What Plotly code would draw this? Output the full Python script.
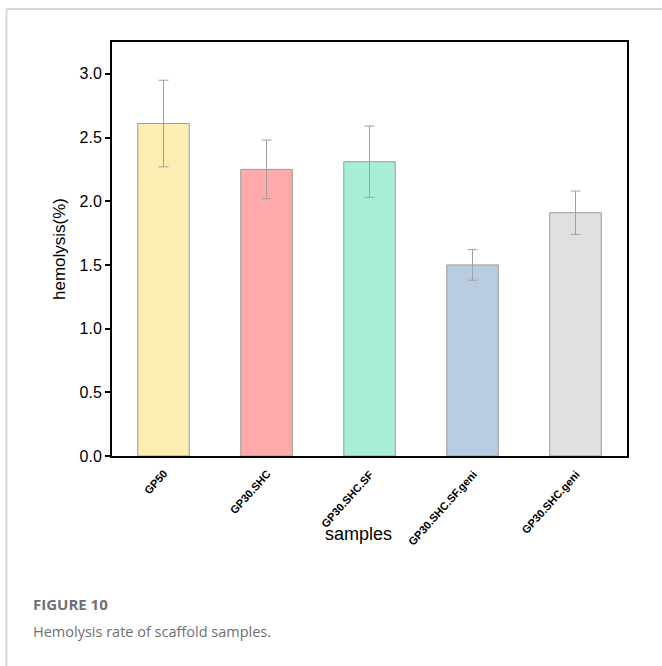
import plotly.graph_objects as go

categories = ["GP50", "GP30.SHC", "GP30.SHC.SF", "GP30.SHC.SF.geni", "GP30.SHC.geni"]
values = [2.61, 2.25, 2.31, 1.50, 1.91]
errors = [0.34, 0.23, 0.28, 0.12, 0.17]
colors = ["#FCEEB3", "#FFAAAA", "#A8EED6", "#B8CDE2", "#E0E0E0"]
ytick_vals = [0.0, 0.5, 1.0, 1.5, 2.0, 2.5, 3.0]

W, H = 662, 666
L, R, T, B = 112, 35, 42, 210
PW, PH = W - L - R, H - T - B


def px(x):
    return (x - L) / PW


def py(y):
    return (H - B - y) / PH


fig = go.Figure()
fig.add_trace(go.Bar(
    x=categories, y=values,
    marker=dict(color=colors, line=dict(color="#9A9A9A", width=1)),
    width=0.5,
    error_y=dict(type="data", array=errors, visible=True, color="#A0A0A0", thickness=1, width=5),
))

fig.update_layout(
    width=W, height=H,
    margin=dict(l=L, r=R, t=T, b=B),
    paper_bgcolor="white", plot_bgcolor="white",
    showlegend=False,
    font=dict(family="Liberation Sans, Arial", color="black"),
    xaxis=dict(
        showline=True, linecolor="black", linewidth=2, mirror=True,
        showticklabels=False, ticks="",
    ),
    yaxis=dict(
        range=[0, 3.25], tickvals=ytick_vals, ticktext=[f"{v:.1f}" for v in ytick_vals],
        showline=True, linecolor="black", linewidth=2, mirror=True,
        ticks="outside", ticklen=5, tickwidth=1.5, tickcolor="black",
        showgrid=False, zeroline=False,
        tickfont=dict(size=16),
        title=dict(text="hemolysis(%)", font=dict(size=17), standoff=10),
    ),
)

# rotated category labels
for c in categories:
    fig.add_annotation(xref="x", yref="paper", x=c, y=py(465), xanchor="right", yanchor="top",
                       xshift=9, textangle=-48, text=f"<b>{c}</b>", showarrow=False,
                       font=dict(size=11, color="black"))

fig.add_annotation(xref="paper", yref="paper", x=px(358), y=py(534), xanchor="center", yanchor="middle",
                   text="samples", showarrow=False, font=dict(size=18, color="black"))

# card border
fig.add_shape(type="line", xref="paper", yref="paper", x0=px(6.5), x1=px(W + 2),
              y0=py(9), y1=py(9), line=dict(color="#D6D6D6", width=1.8))
fig.add_shape(type="line", xref="paper", yref="paper", x0=px(6.5), x1=px(6.5),
              y0=py(9), y1=py(H + 2), line=dict(color="#D6D6D6", width=1.8))

fig.add_annotation(xref="paper", yref="paper", x=px(31), y=py(604), xanchor="left", yanchor="middle",
                   text="<b>FIGURE 10</b>", showarrow=False,
                   font=dict(family="Open Sans", size=15, color="#707070"))
fig.add_annotation(xref="paper", yref="paper", x=px(31), y=py(631), xanchor="left", yanchor="middle",
                   text="Hemolysis rate of scaffold samples.", showarrow=False,
                   font=dict(family="Open Sans", size=14.5, color="#707070"))

fig.write_html("out.html", config={"displayModeBar": False},
               post_script="document.body.style.margin='0';")
